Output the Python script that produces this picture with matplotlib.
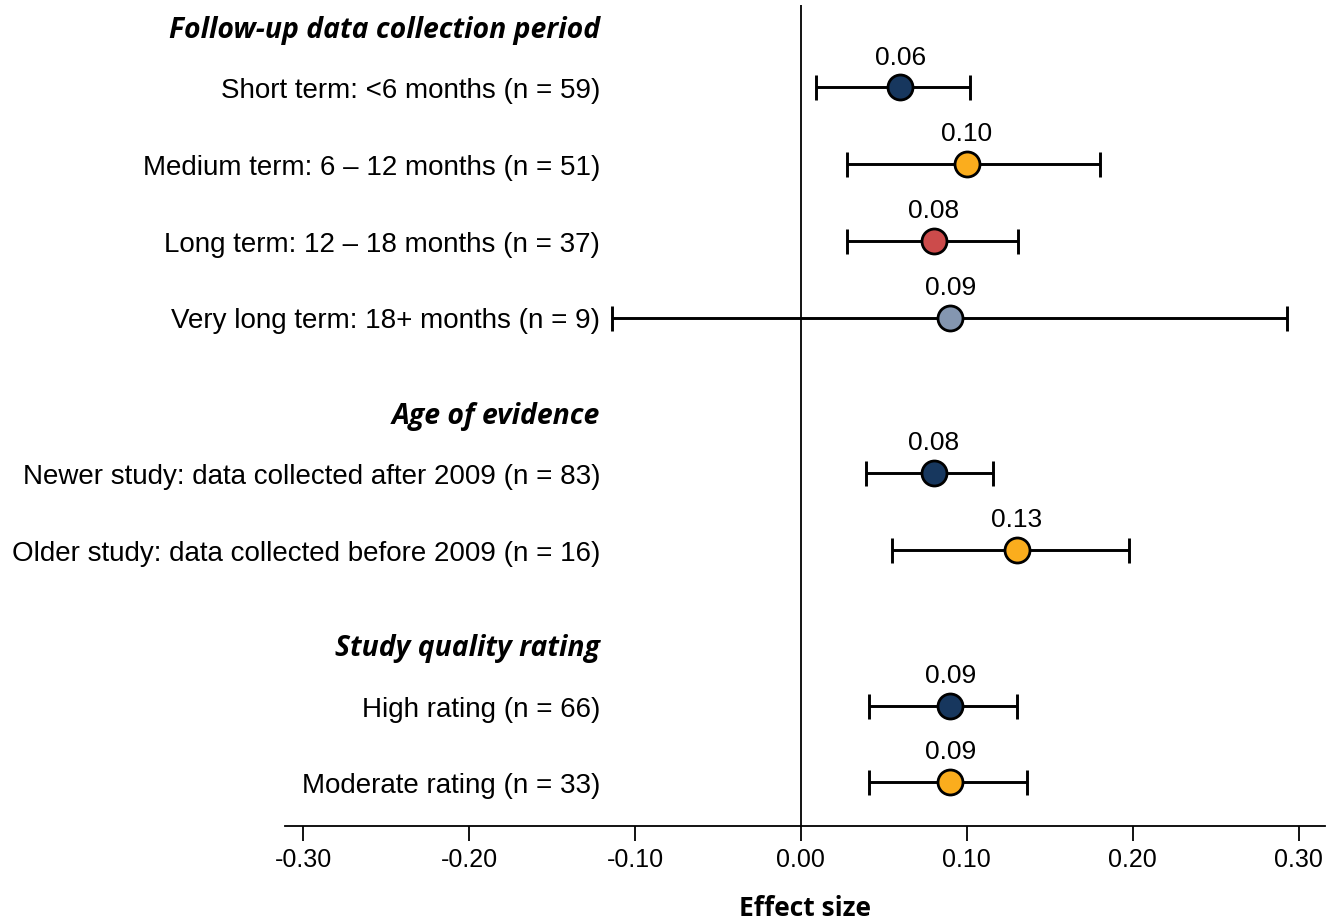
import numpy as np
import matplotlib.pyplot as plt
from matplotlib.transforms import blended_transform_factory

# donnees
groupes = ["Follow-up data collection period", "Age of evidence", "Study quality rating"]
labels = [
    ["Short term: <6 months (n = 59)",
     "Medium term: 6 \u2013 12 months (n = 51)",
     "Long term: 12 \u2013 18 months (n = 37)",
     "Very long term: 18+ months (n = 9)"],
    ["Newer study: data collected after 2009 (n = 83)",
     "Older study: data collected before 2009 (n = 16)"],
    ["High rating (n = 66)",
     "Moderate rating (n = 33)"],
]
effets = [[0.06, 0.10, 0.08, 0.09], [0.08, 0.13], [0.09, 0.09]]
bas = [[0.009, 0.028, 0.028, -0.114], [0.039, 0.055], [0.041, 0.041]]
haut = [[0.102, 0.180, 0.131, 0.293], [0.116, 0.198], [0.130, 0.136]]
couleurs = [["#17375e", "#fbad1d", "#cc4b4b", "#8496b0"],
            ["#17375e", "#fbad1d"],
            ["#17375e", "#fbad1d"]]
ticks = [-0.30, -0.20, -0.10, 0.00, 0.10, 0.20, 0.30]

fig = plt.figure(figsize=(13.38, 9.22), dpi=100)
ax = fig.add_axes([0.213, 0.104, 0.777, 0.891])

#positions verticales
y = 0.0
pos_titres = []
pos_lignes = []
for g in range(len(groupes)):
    if g > 0:
        y += 2.03
    pos_titres.append(y - 0.8)
    p = []
    for i in range(len(labels[g])):
        p.append(y)
        y += 1
    y -= 1
    pos_lignes.append(p)

trans = blended_transform_factory(ax.transAxes, ax.transData)
x_lab = 0.303

for g in range(len(groupes)):
    ax.text(x_lab, pos_titres[g] + 0.06, groupes[g], transform=trans, ha='right', va='center',
            fontsize=20.4, fontweight='bold', style='italic', family=['Open Sans', 'DejaVu Sans'])
    for i in range(len(labels[g])):
        yy = pos_lignes[g][i]
        e = effets[g][i]
        ax.errorbar(e, yy, xerr=[[e - bas[g][i]], [haut[g][i] - e]], fmt='none',
                    ecolor='black', elinewidth=2.1, capsize=9, capthick=2.1, zorder=2)
        ax.plot(e, yy, 'o', ms=18, mfc=couleurs[g][i], mec='black', mew=2, zorder=3)
        ax.text(e, yy - 0.39, "%.2f" % e, ha='center', va='center', fontsize=19,
                family='Liberation Sans')
        ax.text(x_lab, yy + 0.05, labels[g][i], transform=trans, ha='right', va='center',
                fontsize=20, family='Liberation Sans')

ax.axvline(0, color='black', lw=1.3, zorder=1)
ax.set_xlim(-0.311, 0.3157)
ax.set_ylim(9.63, -1.08)
ax.set_xticks(ticks)
ax.set_xticklabels(["%.2f" % t for t in ticks], family='Liberation Sans', fontsize=18)
ax.tick_params(axis='x', length=11, width=1.3, pad=5)
ax.set_yticks([])
for s in ['top', 'right', 'left']:
    ax.spines[s].set_visible(False)
ax.spines['bottom'].set_linewidth(1.3)
ax.set_xlabel("Effect size", fontsize=19, fontweight='bold', family=['Open Sans', 'DejaVu Sans'],
              labelpad=16)

fig.savefig("out.png", dpi=100)
